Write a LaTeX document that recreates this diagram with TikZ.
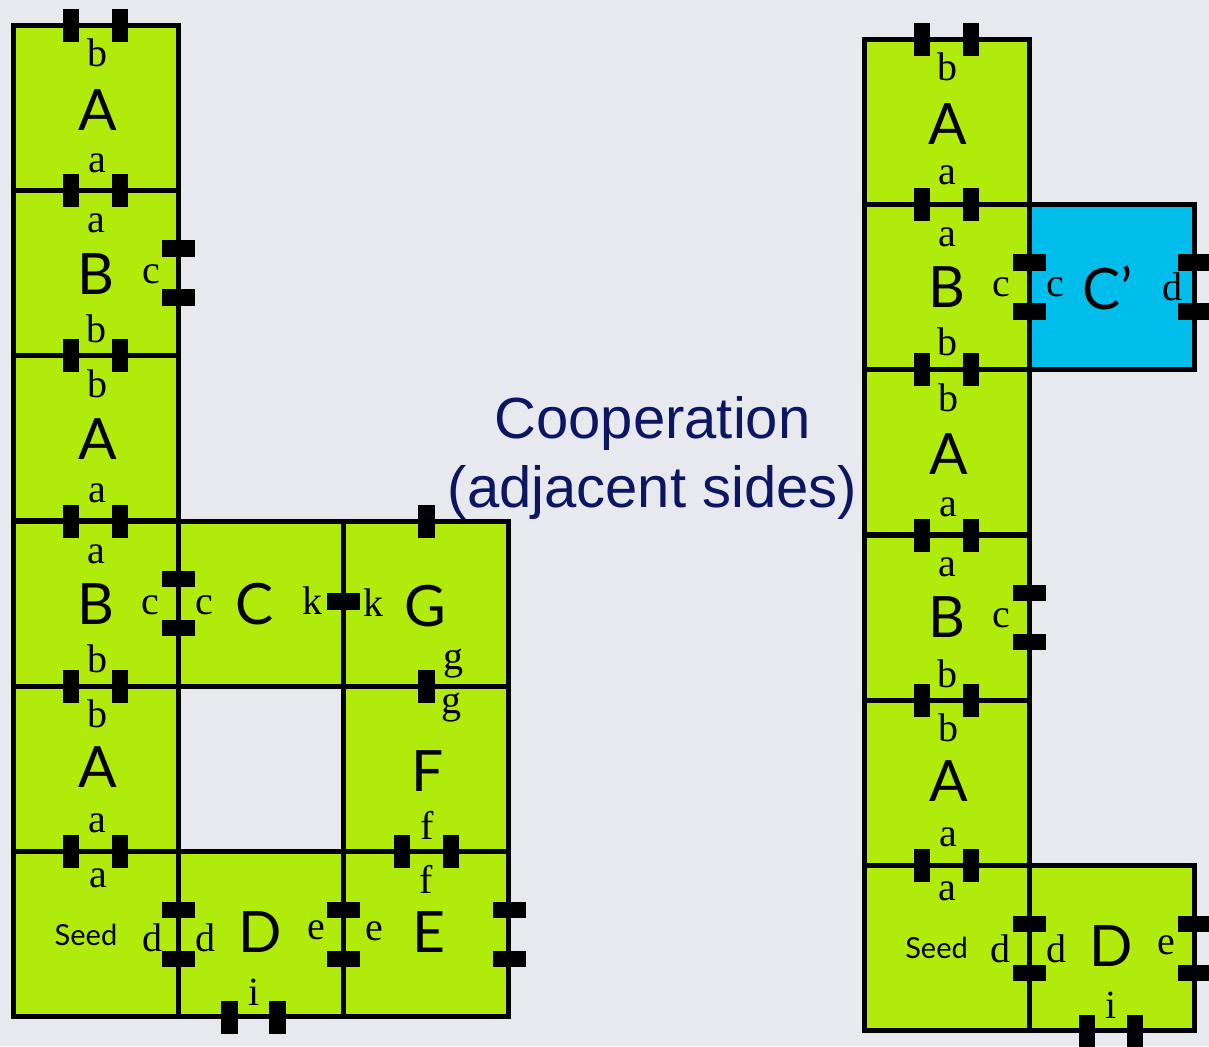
\documentclass[tikz,border=0pt]{standalone}
\usepackage{fontspec}
\setmainfont{Liberation Serif}
\newfontfamily\bigfont{Lato}
\newfontfamily\coopfont{Liberation Sans}
\definecolor{bgcol}{RGB}{231,233,238}
\definecolor{tilegreen}{RGB}{177,235,12}
\definecolor{tilecyan}{RGB}{0,190,235}
\definecolor{navy}{RGB}{12,22,98}
\begin{document}
\begin{tikzpicture}[x=0.5pt,y=-0.5pt,
  tile/.style={rectangle, draw=black, line width=2.5pt, fill=tilegreen,
    minimum width=82.67pt, minimum height=82.67pt, inner sep=0pt, outer sep=0pt},
  tabv/.style={rectangle, fill=black, minimum width=8.25pt, minimum height=16.5pt, inner sep=0pt},
  tabh/.style={rectangle, fill=black, minimum width=16.5pt, minimum height=8.25pt, inner sep=0pt},
  lbl/.style={inner sep=0pt, font=\fontsize{20pt}{24pt}\selectfont},
  big/.style={inner sep=0pt, font=\bigfont\fontsize{28.5pt}{34pt}\selectfont},
  seedlbl/.style={inner sep=0pt, font=\bigfont\fontsize{14.5pt}{17pt}\selectfont},
  coop/.style={inner sep=0pt, anchor=base, text=navy, font=\coopfont\fontsize{29pt}{35pt}\selectfont}
]
\fill[bgcol] (0,0) rectangle (1209,1046);
\useasboundingbox (0,0) rectangle (1209,1046);

% ---------- left assembly: tiles ----------
\node[tile] (LA0) at (95.7,107.7) {};
\node[tile] (LB1) at (95.7,273) {};
\node[tile] (LA2) at (95.7,438.3) {};
\node[tile] (LB3) at (95.7,603.7) {};
\node[tile] (LA4) at (95.7,769) {};
\node[tile] (LS5) at (95.7,934.3) {};
\node[tile] (LC3) at (261,603.7) {};
\node[tile] (LG3) at (426.3,603.7) {};
\node[tile] (LF4) at (426.3,769) {};
\node[tile] (LE5) at (426.3,934.3) {};
\node[tile] (LD5) at (261,934.3) {};

% ---------- right assembly: tiles ----------
\node[tile] (RA0) at (946.7,121.7) {};
\node[tile] (RB1) at (946.7,287) {};
\node[tile,fill=tilecyan] (RC1) at (1112,287) {};
\node[tile] (RA2) at (946.7,452.3) {};
\node[tile] (RB3) at (946.7,617.7) {};
\node[tile] (RA4) at (946.7,783) {};
\node[tile] (RS5) at (946.7,948.3) {};
\node[tile] (RD5) at (1112,948.3) {};

% ---------- glue tabs ----------
\foreach \yy [count=\n] in {25,190.3,355.7,521,686.3,851.7} {
  \node[tabv] (LTa\n) at (71.2,\yy) {};
  \node[tabv] (LTb\n) at (120.2,\yy) {};
}
\foreach \yy [count=\n] in {39,204.3,369.7,535,700.3,865.7} {
  \node[tabv] (RTa\n) at (922.2,\yy) {};
  \node[tabv] (RTb\n) at (971.2,\yy) {};
}
\node[tabv] (LTG) at (426.3,521) {};
\node[tabv] (LTg) at (426.3,686.3) {};
\node[tabv] (LTf1) at (402,851.7) {};
\node[tabv] (LTf2) at (451,851.7) {};
\node[tabv] (LTi1) at (229.5,1017) {};
\node[tabv] (LTi2) at (277.5,1017) {};
\node[tabv] (RTi1) at (1087,1031) {};
\node[tabv] (RTi2) at (1135,1031) {};

\foreach \yy [count=\n] in {248.5,297.5,579.2,628.2,909.8,958.8} {
  \node[tabh] (LTc\n) at (178.3,\yy) {};
}
\node[tabh] (LTk) at (343.7,601.5) {};
\node[tabh] (LTe1) at (343.7,909.8) {};
\node[tabh] (LTe2) at (343.7,958.8) {};
\node[tabh] (LTr1) at (509,909.8) {};
\node[tabh] (LTr2) at (509,958.8) {};
\foreach \yy [count=\n] in {262.5,311.5,593.2,642.2,923.8,972.8} {
  \node[tabh] (RTc\n) at (1029.3,\yy) {};
}
\foreach \yy [count=\n] in {262.5,311.5,923.8,972.8} {
  \node[tabh] (RTr\n) at (1194.7,\yy) {};
}

% ---------- left labels ----------
\node[lbl] (la0b) at (97,53) {b};
\node[big] (la0L) at (97.5,110) {A};
\node[lbl] (la0a) at (97,163) {a};

\node[lbl] (lb1a) at (96,223.5) {a};
\node[big] (lb1L) at (96,274) {B};
\node[lbl] (lb1c) at (151,274) {c};
\node[lbl] (lb1b) at (96,328.5) {b};

\node[lbl] (la2b) at (97,383.5) {b};
\node[big] (la2L) at (97.5,439) {A};
\node[lbl] (la2a) at (97,493.5) {a};

\node[lbl] (lb3a) at (96,554) {a};
\node[big] (lb3L) at (96,604) {B};
\node[lbl] (lb3c) at (150.5,605) {c};
\node[lbl] (lb3b) at (97,658.5) {b};

\node[lbl] (la4b) at (97,714) {b};
\node[big] (la4L) at (97.5,767.5) {A};
\node[lbl] (la4a) at (97,823.5) {a};

\node[lbl] (ls5a) at (98,878.5) {a};
\node[seedlbl] (ls5L) at (86,934.5) {Seed};
\node[lbl] (ls5d) at (152,937.5) {d};

\node[lbl] (lc3c) at (204.5,605) {c};
\node[big] (lc3L) at (254.5,604.5) {C};
\node[lbl] (lc3k) at (312.5,601) {k};

\node[lbl] (lg3k) at (373,602.5) {k};
\node[big] (lg3L) at (425.5,606.5) {G};
\node[lbl] (lg3g) at (453.5,664) {g};

\node[lbl] (lf4g) at (451,707.5) {g};
\node[big] (lf4L) at (428,771.5) {F};
\node[lbl] (lf4f) at (427.5,825) {f};

\node[lbl] (le5f) at (426,879) {f};
\node[lbl] (le5e) at (374.5,931) {e};
\node[big] (le5L) at (428.5,932.5) {E};

\node[lbl] (ld5d) at (205,937.5) {d};
\node[big] (ld5L) at (260,932.5) {D};
\node[lbl] (ld5e) at (316,930) {e};
\node[lbl] (ld5i) at (254,992.5) {i};

% ---------- right labels ----------
\node[lbl] (ra0b) at (947,66.5) {b};
\node[big] (ra0L) at (948,124.5) {A};
\node[lbl] (ra0a) at (947,175.5) {a};

\node[lbl] (rb1a) at (947,237) {a};
\node[big] (rb1L) at (947,287.5) {B};
\node[lbl] (rb1c) at (1001.5,287.5) {c};
\node[lbl] (rb1b) at (947,342) {b};

\node[lbl] (rc1c) at (1055,287.5) {c};
\node[big] (rc1L) at (1108,287.5) {C’};
\node[lbl] (rc1d) at (1172,287) {d};

\node[lbl] (ra2b) at (948,397.5) {b};
\node[big] (ra2L) at (948.5,454) {A};
\node[lbl] (ra2a) at (948,507.5) {a};

\node[lbl] (rb3a) at (947,567.5) {a};
\node[big] (rb3L) at (947,617) {B};
\node[lbl] (rb3c) at (1001.5,618) {c};
\node[lbl] (rb3b) at (947,673.5) {b};

\node[lbl] (ra4b) at (948,728) {b};
\node[big] (ra4L) at (948.5,781.5) {A};
\node[lbl] (ra4a) at (948,837.5) {a};

\node[lbl] (rs5a) at (947,891) {a};
\node[seedlbl] (rs5L) at (936.5,948) {Seed};
\node[lbl] (rs5d) at (1000,949) {d};

\node[lbl] (rd5d) at (1056,949) {d};
\node[big] (rd5L) at (1111,946) {D};
\node[lbl] (rd5e) at (1166,945) {e};
\node[lbl] (rd5i) at (1111,1005) {i};

% ---------- caption ----------
\node[coop] (coop1) at (652.5,438) {Cooperation};
\node[coop] (coop2) at (652.5,507) {(adjacent sides)};
\end{tikzpicture}
\end{document}
